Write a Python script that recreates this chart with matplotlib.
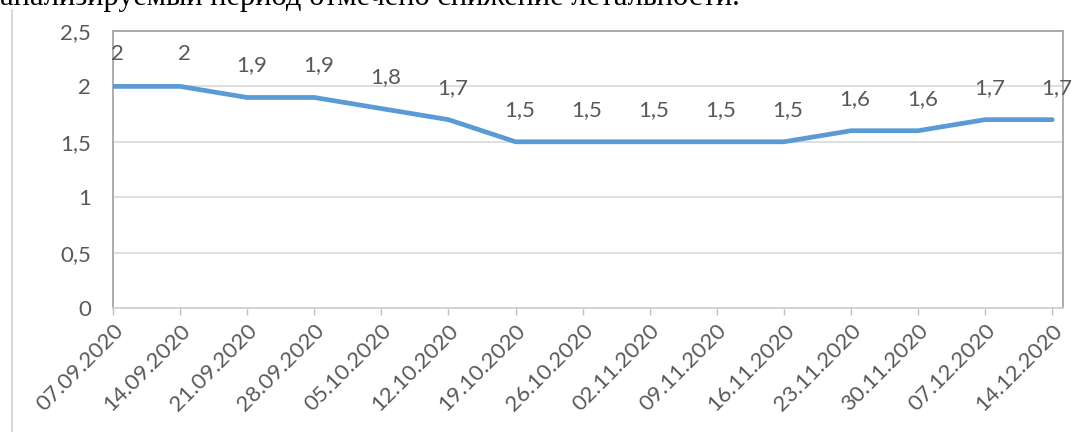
import matplotlib.pyplot as plt
from matplotlib.lines import Line2D

dates = ['07.09.2020', '14.09.2020', '21.09.2020', '28.09.2020', '05.10.2020',
         '12.10.2020', '19.10.2020', '26.10.2020', '02.11.2020', '09.11.2020',
         '16.11.2020', '23.11.2020', '30.11.2020', '07.12.2020', '14.12.2020']
values = [2, 2, 1.9, 1.9, 1.8, 1.7, 1.5, 1.5, 1.5, 1.5, 1.5, 1.6, 1.6, 1.7, 1.7]
yticks = [0, 0.5, 1, 1.5, 2, 2.5]
page_text = 'анализируемый период отмечено снижение летальности.'

txt_color = '#595959'
fs = 16
plt.rcParams['font.family'] = ['Lato', 'DejaVu Sans']

fig = plt.figure(figsize=(10.91, 4.32), dpi=100)
ax = fig.add_axes([113/1091, 1-308/432, (1063-113)/1091, (308-31)/432])

x = list(range(len(values)))
ax.plot(x, values, color='#5B9BD5', linewidth=3.4, solid_capstyle='round', zorder=3)

def fmt(v):
    return ('%g' % v).replace('.', ',')

for xi, v in zip(x, values):
    ax.annotate(fmt(v), (xi, v), xytext=(3, 23), textcoords='offset points',
                ha='center', va='center', fontsize=fs, color=txt_color,
                annotation_clip=False)

ax.set_xlim(0, 14.16)
ax.set_ylim(0, 2.5)
ax.set_yticks(yticks)
ax.set_yticklabels([fmt(t) for t in yticks], fontsize=fs, color=txt_color)
ax.set_xticks(x)
ax.set_xticklabels(dates, rotation=45, ha='right', rotation_mode='anchor',
                   fontsize=fs, color=txt_color)
ax.tick_params(axis='y', length=0, pad=16)
ax.tick_params(axis='x', length=5, width=1, color='#BFBFBF', pad=4)
ax.grid(axis='y', color='#D9D9D9', linewidth=1.2)
ax.set_axisbelow(True)
for sp in ax.spines.values():
    sp.set_color('#A6A6A6')
    sp.set_linewidth(1.3)
ax.spines['bottom'].set_color('#D0D0D0')

# page border on the left
fig.add_artist(Line2D([12/1091, 12/1091], [0, 1-10/432], color='#D9D9D9', linewidth=1.5))

# clipped sentence of the surrounding document text
fig.text(0.0, 1-5/432, page_text, ha='left', va='baseline', fontsize=22,
         family=['Liberation Serif'], color='black')

fig.savefig('out.png', dpi=100)
